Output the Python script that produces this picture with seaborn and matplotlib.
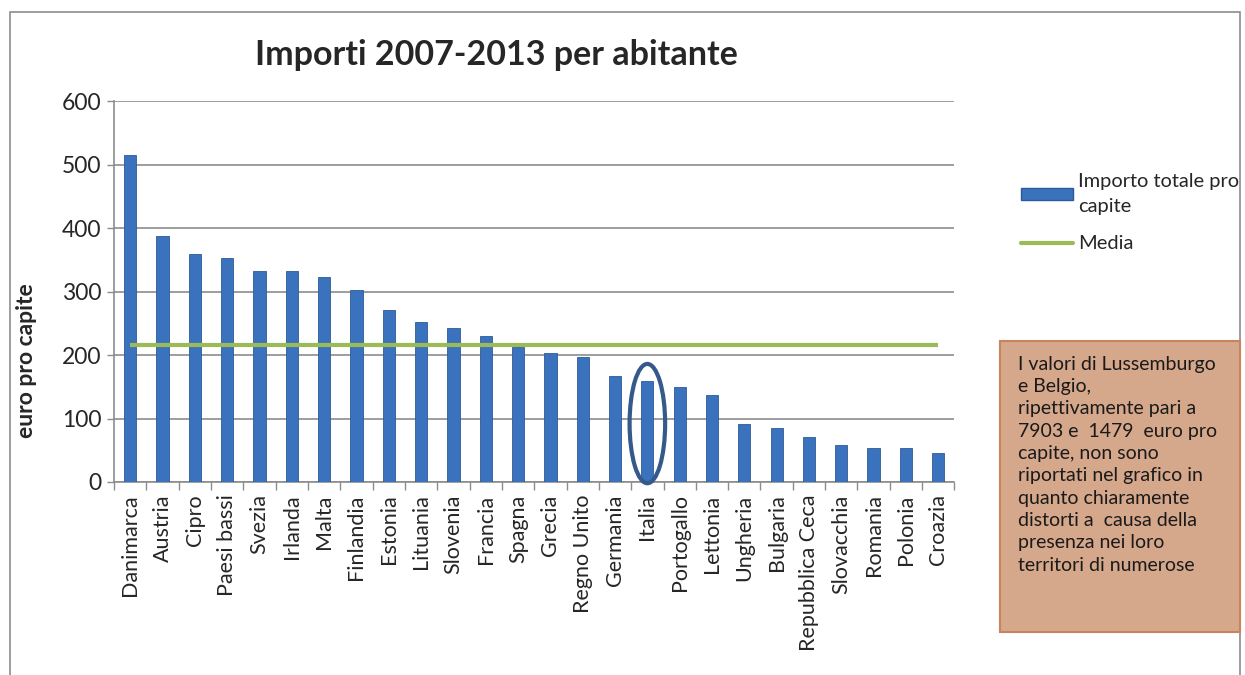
import matplotlib.pyplot as plt
import seaborn as sns
import pandas as pd
from matplotlib.patches import Ellipse, Rectangle, Patch
from matplotlib.lines import Line2D

paesi = ["Danimarca", "Austria", "Cipro", "Paesi bassi", "Svezia", "Irlanda",
         "Malta", "Finlandia", "Estonia", "Lituania", "Slovenia", "Francia",
         "Spagna", "Grecia", "Regno Unito", "Germania", "Italia", "Portogallo",
         "Lettonia", "Ungheria", "Bulgaria", "Repubblica Ceca", "Slovacchia",
         "Romania", "Polonia", "Croazia"]
importo = [515, 387, 360, 353, 333, 332, 323, 303, 271, 252, 243, 230, 213,
           204, 197, 167, 159, 150, 137, 92, 85, 71, 58, 53, 53, 45]
media = 216
yticks = [0, 100, 200, 300, 400, 500, 600]

nota = ("I valori di Lussemburgo\ne Belgio,\nripettivamente pari a\n"
        "7903 e  1479  euro pro\ncapite, non sono\nriportati nel grafico in\n"
        "quanto chiaramente\ndistorti a  causa della\npresenza nei loro\n"
        "territori di numerose")

df = pd.DataFrame({"paese": paesi, "importo": importo})
df["media"] = media

sns.set_style("white")
plt.rcParams["font.family"] = ["Lato", "DejaVu Sans"]

fig = plt.figure(figsize=(12.45, 6.75), dpi=100)
ax = fig.add_axes([0.0916, 0.286, 0.675, 0.564])

bar_col = "#3a72bd"
line_col = "#9bbb59"

sns.barplot(data=df, x="paese", y="importo", color=bar_col, width=0.38,
            saturation=1, edgecolor="#2c5a98", linewidth=0.6, ax=ax, zorder=3)
ax.plot(range(len(paesi)), df["media"], color=line_col, lw=3, zorder=4,
        solid_capstyle="butt")

ax.set_ylim(0, 600)
ax.set_xlim(-0.5, len(paesi) - 0.5)
ax.set_yticks(yticks)
ax.yaxis.grid(True, color="#8c8c8c", lw=1.2)
ax.set_axisbelow(True)
ax.tick_params(axis="y", labelsize=16.5, length=5, width=1, color="#8c8c8c",
               left=True, pad=4)
ax.set_xticks(range(len(paesi)))
ax.set_xticklabels(paesi, rotation=90, fontsize=15.5)
ax.tick_params(axis="x", length=0, pad=9)
ax.set_xticks([i - 0.5 for i in range(len(paesi) + 1)], minor=True)
ax.tick_params(axis="x", which="minor", length=6, width=1, color="#8c8c8c",
               bottom=True)
for s in ["top", "right"]:
    ax.spines[s].set_visible(False)
for s in ["left", "bottom"]:
    ax.spines[s].set_color("#8c8c8c")
    ax.spines[s].set_linewidth(1.2)
ax.set_xlabel("")
ax.set_ylabel("euro pro capite", fontsize=16.5, fontweight="bold")
ax.yaxis.set_label_coords(-0.092, 0.318)

# ellisse su Italia
i_it = paesi.index("Italia")
ax.add_patch(Ellipse((i_it, 92), 1.1, 188, fill=False, ec="#34598a", lw=3,
                     zorder=5, clip_on=False))

fig.text(0.399, 0.918, "Importi 2007-2013 per abitante", ha="center",
         va="center", fontsize=24.5, fontweight="bold")

handles = [Patch(facecolor=bar_col, edgecolor="#2c5a98"),
           Line2D([0], [0], color=line_col, lw=3)]
leg = fig.legend(handles, ["Importo totale pro\ncapite", "Media"],
                 loc="upper left", bbox_to_anchor=(0.806, 0.77), frameon=False,
                 fontsize=14.4, handlelength=2.6, handleheight=0.5,
                 handletextpad=0.25, labelspacing=1.0)
for t in leg.get_texts():
    t.set_linespacing(1.55)

# cornice del grafico
fig.add_artist(Rectangle((0.008, -0.05), 0.988, 1.032, transform=fig.transFigure,
                         fill=False, ec="#8c8c8c", lw=1.2))

# riquadro nota
fig.add_artist(Rectangle((0.803, 0.063), 0.193, 0.432, transform=fig.transFigure,
                         fc="#d5a78b", ec="#c8855d", lw=1.5))
fig.text(0.818, 0.473, nota, ha="left", va="top", fontsize=14,
         linespacing=1.38, color="#1a1a1a")

fig.savefig("out.png", dpi=100)
